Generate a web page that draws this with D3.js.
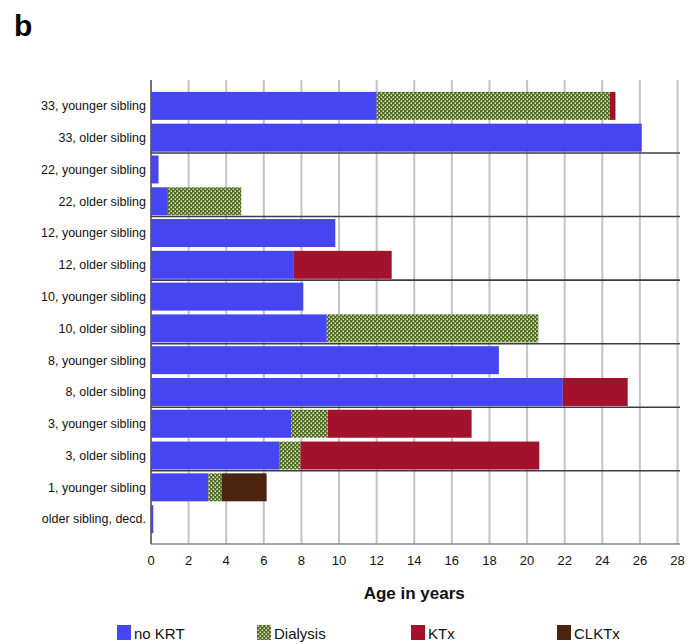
<!DOCTYPE html>
<html>
<head>
<meta charset="utf-8">
<script src="https://cdn.jsdelivr.net/npm/d3@7"></script>
<style>
  body { margin: 0; background: #fff; }
  svg { display: block; }
</style>
</head>
<body>
<div class="canvas"></div>
<script>
const width = 695
const height = 644

// rows, top to bottom
const patients = [
  '33, younger sibling', '33, older sibling',
  '22, younger sibling', '22, older sibling',
  '12, younger sibling', '12, older sibling',
  '10, younger sibling', '10, older sibling',
  '8, younger sibling', '8, older sibling',
  '3, younger sibling', '3, older sibling',
  '1, younger sibling', 'older sibling, decd.'
]

// years spent in each phase (stacked left to right)
const noKRT    = [12.0, 26.1, 0.4, 0.9, 9.8, 7.6, 8.1, 9.35, 18.5, 21.9, 7.45, 6.85, 3.05, 0.12]
const dialysis = [12.4, 0,    0,   3.9, 0,   0,   0,   11.25, 0,   0,    1.95, 1.1,  0.7,  0]
const ktx      = [0.3,  0,    0,   0,   0,   5.2, 0,   0,    0,    3.45, 7.65, 12.7, 0,    0]
const clktx    = [0,    0,    0,   0,   0,   0,   0,   0,    0,    0,    0,    0,    2.4,  0]

const xTicks = d3.range(0, 29, 2)
const seriesKeys = ['no KRT', 'Dialysis', 'KTx', 'CLKTx']
const colors = {'no KRT': '#4545f2', 'Dialysis': 'url(#dots)', 'KTx': '#a3112d', 'CLKTx': '#4a2410'}

const rows = patients.map((p, i) => ({
  name: p,
  'no KRT': noKRT[i],
  'Dialysis': dialysis[i],
  'KTx': ktx[i],
  'CLKTx': clktx[i]
}))

const plotLeft = 151, plotRight = 677.5, plotTop = 80, plotBottom = 544

const svg = d3.select('.canvas')
  .append('svg')
  .attr('width', width)
  .attr('height', height)
  .attr('viewBox', `0 0 ${width} ${height}`)

const defs = svg.append('defs')
const pat = defs.append('pattern')
  .attr('id', 'dots')
  .attr('patternUnits', 'userSpaceOnUse')
  .attr('width', 4)
  .attr('height', 4)
pat.append('rect').attr('width', 4).attr('height', 4).attr('fill', '#4d6a1e')
pat.append('rect').attr('x', 0.5).attr('y', 0.5).attr('width', 1.6).attr('height', 1.4).attr('fill', '#eef3dc')
pat.append('rect').attr('x', 2.5).attr('y', 2.5).attr('width', 1.6).attr('height', 1.4).attr('fill', '#eef3dc')

const x = d3.scaleLinear().domain([0, 28]).range([plotLeft, plotRight])
const y = d3.scaleBand()
  .domain(patients)
  .range([90, 535])
  .paddingInner(0.12)
  .paddingOuter(0.06)

// panel letter
svg.append('text')
  .attr('x', 14)
  .attr('y', 36)
  .attr('font-family', 'Liberation Sans, Arial, sans-serif')
  .attr('font-weight', 'bold')
  .attr('font-size', 30)
  .text('b')

// vertical grid
svg.append('g')
  .selectAll('line')
  .data(xTicks.filter(d => d > 0))
  .join('line')
  .attr('x1', d => x(d)).attr('x2', d => x(d))
  .attr('y1', plotTop).attr('y2', plotBottom)
  .attr('stroke', '#c4c4c4')
  .attr('stroke-width', 2)

// axes lines (left one sits under the bars)
svg.append('line')
  .attr('x1', plotLeft).attr('x2', 680)
  .attr('y1', plotBottom).attr('y2', plotBottom)
  .attr('stroke', '#8a8a8a').attr('stroke-width', 1.5)
svg.append('line')
  .attr('x1', plotLeft).attr('x2', plotLeft)
  .attr('y1', plotTop).attr('y2', plotBottom)
  .attr('stroke', '#444').attr('stroke-width', 1.5)

// stacked bars
const stacked = d3.stack().keys(seriesKeys)(rows)
svg.append('g')
  .selectAll('g')
  .data(stacked)
  .join('g')
  .attr('fill', d => colors[d.key])
  .selectAll('rect')
  .data(d => d.filter(s => s[1] - s[0] > 0))
  .join('rect')
  .attr('x', d => x(d[0]))
  .attr('y', d => y(d.data.name))
  .attr('width', d => x(d[1]) - x(d[0]))
  .attr('height', y.bandwidth())

// dark separators between sibling pairs
const pairEnds = patients.filter((p, i) => i % 2 === 1 && i < patients.length - 2)
svg.append('g')
  .selectAll('line')
  .data(pairEnds)
  .join('line')
  .attr('x1', plotLeft).attr('x2', 680)
  .attr('y1', d => y(d) + y.bandwidth() + 1.3)
  .attr('y2', d => y(d) + y.bandwidth() + 1.3)
  .attr('stroke', '#3a3d48')
  .attr('stroke-width', 1.6)

// x tick labels
svg.append('g')
  .selectAll('text')
  .data(xTicks)
  .join('text')
  .attr('x', d => x(d))
  .attr('y', 565)
  .attr('text-anchor', 'middle')
  .attr('font-family', 'Liberation Sans, Arial, sans-serif')
  .attr('font-size', 13)
  .attr('fill', '#111')
  .text(d => d)

// y labels
svg.append('g')
  .selectAll('text')
  .data(patients)
  .join('text')
  .attr('x', 146)
  .attr('y', d => y(d) + y.bandwidth() / 2)
  .attr('dy', '0.35em')
  .attr('text-anchor', 'end')
  .attr('font-family', 'Liberation Sans, Arial, sans-serif')
  .attr('font-size', 12.5)
  .attr('fill', '#111')
  .text(d => d)

// axis title
svg.append('text')
  .attr('x', (plotLeft + plotRight) / 2)
  .attr('y', 599)
  .attr('text-anchor', 'middle')
  .attr('font-family', 'Liberation Sans, Arial, sans-serif')
  .attr('font-weight', 'bold')
  .attr('font-size', 17)
  .attr('fill', '#111')
  .text('Age in years')

// legend
const legendX = [117, 257, 411, 557]
const legend = svg.append('g')
  .selectAll('g')
  .data(seriesKeys)
  .join('g')
  .attr('transform', (d, i) => `translate(${legendX[i]}, 625)`)
legend.append('rect')
  .attr('width', 14).attr('height', 15)
  .attr('fill', d => colors[d])
legend.append('text')
  .attr('x', 17)
  .attr('y', 14)
  .attr('font-family', 'Liberation Sans, Arial, sans-serif')
  .attr('font-size', 15)
  .attr('fill', '#111')
  .text(d => d)
</script>
</body>
</html>
